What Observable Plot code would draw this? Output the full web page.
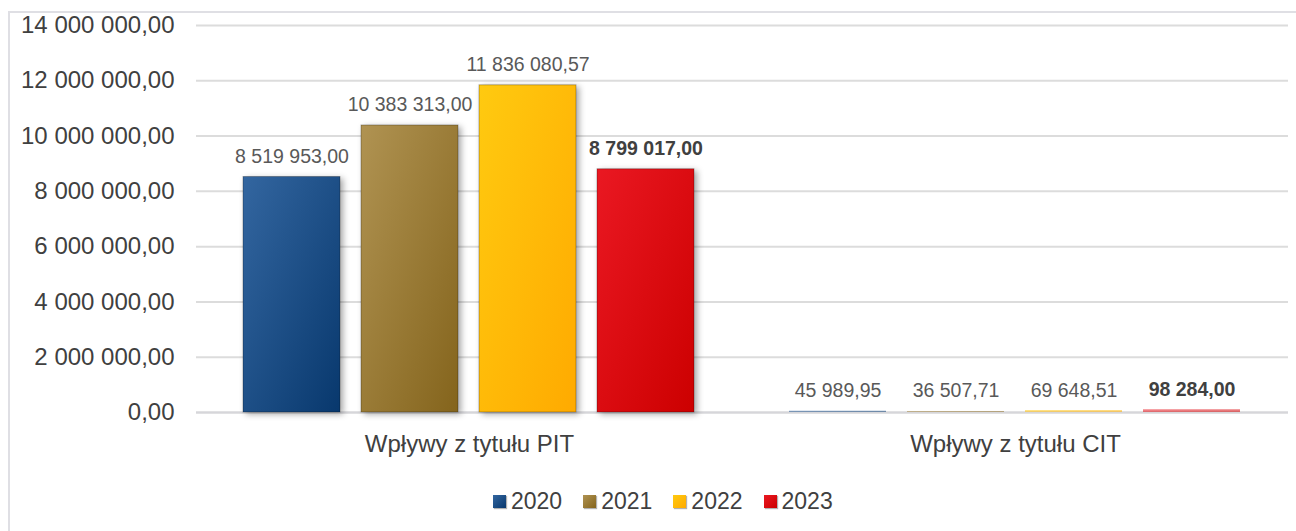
<!DOCTYPE html>
<html>
<head>
<meta charset="utf-8">
<script src="https://cdn.jsdelivr.net/npm/d3@7"></script>
<script src="https://cdn.jsdelivr.net/npm/@observablehq/plot@0.6"></script>
<style>
  html, body { margin: 0; padding: 0; background: #ffffff; }
  body { width: 1296px; height: 531px; overflow: hidden; position: relative; font-family: "Liberation Sans", Arial, sans-serif; }
  #frame { position: absolute; left: 8px; top: 11px; width: 1400px; height: 700px; border-left: 2px solid #dfdfe4; border-top: 2px solid #dfdfe4; box-sizing: border-box; }
  #chart { position: absolute; left: 0; top: 0; }
  #chart svg g[aria-label="bar"] rect.big { filter: drop-shadow(3px 2px 3px rgba(0,0,0,0.35)); stroke: rgba(0,0,0,0.28); stroke-width: 1; }
  #chart svg g[aria-label="bar"] rect.tiny { opacity: 0.55; }
  #legend { position: absolute; left: 493px; top: 489px; display: flex; }
  .item { display: flex; align-items: center; height: 24px; margin-right: 21px; font-size: 23px; line-height: 1; color: #404040; }
  .sw { width: 13px; height: 13px; margin-right: 5px; margin-top: 1px; }
</style>
</head>
<body>
<div id="frame"></div>
<div id="chart"></div>
<div id="legend"></div>
<script>
const categories = ["Wpływy z tytułu PIT", "Wpływy z tytułu CIT"];
const years = ["2020", "2021", "2022", "2023"];
const pitValues = [8519953.00, 10383313.00, 11836080.57, 8799017.00];
const citValues = [45989.95, 36507.71, 69648.51, 98284.00];
const yTicks = [0, 2000000, 4000000, 6000000, 8000000, 10000000, 12000000, 14000000];
const gradientStops = {
  "2020": ["#3366a0", "#08386d"],
  "2021": ["#b09352", "#84641c"],
  "2022": ["#ffca10", "#ffaa00"],
  "2023": ["#ea1822", "#cc0000"]
};

const data = [];
years.forEach((y, i) => data.push({category: categories[0], year: y, value: pitValues[i]}));
years.forEach((y, i) => data.push({category: categories[1], year: y, value: citValues[i]}));

const pl = d3.formatLocale({decimal: ",", thousands: " ", grouping: [3], currency: ["", ""]});
const fmt = pl.format(",.2f");

const chart = Plot.plot({
  width: 1296,
  height: 470,
  marginLeft: 195,
  marginRight: 8,
  marginTop: 25,
  marginBottom: 58,
  style: {fontFamily: "'Liberation Sans', Arial, sans-serif", background: "transparent", overflow: "visible"},
  fx: {domain: categories, padding: 0, label: null},
  x: {domain: years, paddingInner: 0.177, paddingOuter: 0.396, axis: null},
  y: {domain: [0, 14000000], axis: null},
  color: {domain: years, range: years.map(y => `url(#g${y})`)},
  marks: [
    Plot.gridY(yTicks, {stroke: "#dcdcdc", strokeOpacity: 1, strokeWidth: 2}),
    Plot.ruleY([0], {stroke: "#d6d6da", strokeWidth: 2}),
    Plot.axisY({ticks: yTicks, tickFormat: fmt, tickSize: 0, tickPadding: 22, fontSize: 24, fill: "#404040", label: null}),
    Plot.axisFx({anchor: "bottom", tickSize: 0, tickPadding: 22, fontSize: 24, fill: "#404040", label: null}),
    Plot.barY(data, {fx: "category", x: "year", y: "value", fill: "year"}),
    Plot.text(data.filter(d => d.year !== "2023"), {fx: "category", x: "year", y: "value", text: d => fmt(d.value), lineAnchor: "bottom", dy: -14, fontSize: 19.5, fill: "#595959"}),
    Plot.text(data.filter(d => d.year === "2023"), {fx: "category", x: "year", y: "value", text: d => fmt(d.value), lineAnchor: "bottom", dy: -14, fontSize: 19.5, fontWeight: "bold", fill: "#404040"})
  ]
});

const defs = d3.select(chart).insert("defs", ":first-child");
years.forEach(y => {
  const g = defs.append("linearGradient").attr("id", `g${y}`)
    .attr("x1", 0).attr("y1", 0).attr("x2", 1).attr("y2", 1);
  g.append("stop").attr("offset", "0%").attr("stop-color", gradientStops[y][0]);
  g.append("stop").attr("offset", "100%").attr("stop-color", gradientStops[y][1]);
});
d3.select(chart).selectAll('g[aria-label="bar"] rect').each(function() {
  const h = +this.getAttribute("height");
  this.classList.add(h > 6 ? "big" : "tiny");
});

document.getElementById("chart").appendChild(chart);

const legend = d3.select("#legend");
years.forEach(y => {
  const it = legend.append("div").attr("class", "item");
  it.append("div").attr("class", "sw")
    .style("background", `linear-gradient(135deg, ${gradientStops[y][0]}, ${gradientStops[y][1]})`)
    .style("box-shadow", "1px 1px 1px rgba(0,0,0,0.3)");
  it.append("span").text(y);
});
</script>
</body>
</html>
